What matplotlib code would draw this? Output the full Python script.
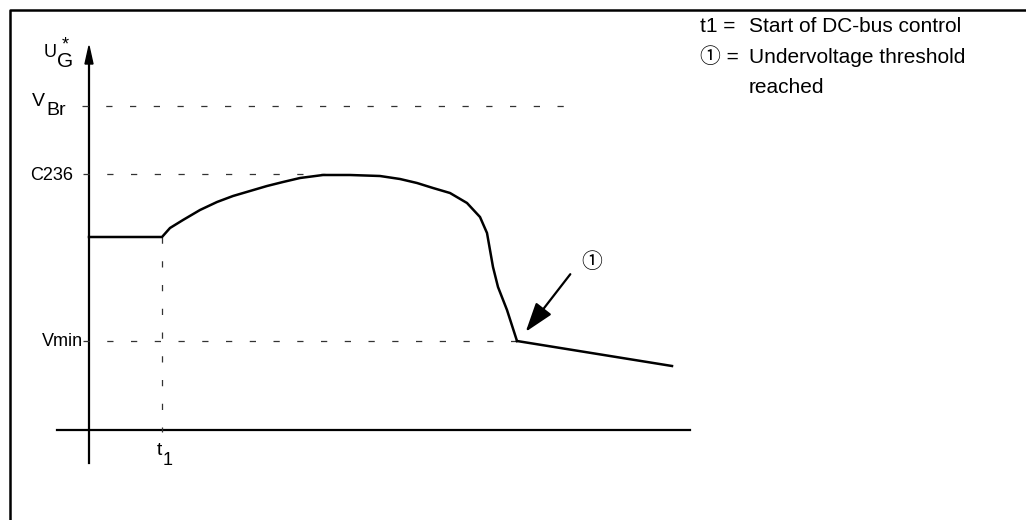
import matplotlib.pyplot as plt

plt.rcParams['font.family'] = ['Liberation Sans', 'Noto Sans CJK JP', 'DejaVu Sans']

# levels (schematic units, origin at the axis crossing)
t1 = 73
v_br = 324
c236 = 256
v_min = 89
u_start = 193

# DC-bus voltage curve
t_curve = [0, 73, 81, 94, 111, 128, 144, 161, 178, 194, 211, 234, 261, 291, 311, 328,
           344, 361, 378, 391, 398, 401, 404, 409, 418, 428]
u_curve = [193, 193, 202, 210, 220, 228, 234, 239, 244, 248, 252, 255, 255, 254, 251, 247,
           242, 237, 227, 213, 197, 180, 163, 143, 120, 89]
# after the undervoltage threshold
t_ramp = [428, 583]
u_ramp = [89, 64]

legend_keys = ["t1 =", "\u2460 ="]
legend_lines = ["Start of DC-bus control", "Undervoltage threshold", "reached"]

fig = plt.figure(figsize=(10.26, 5.2), dpi=100)
ax = fig.add_axes([0, 0, 1, 1])
ax.set_xlim(-89, 937)
ax.set_ylim(-90, 430)
ax.axis('off')

# frame (left and top edges)
ax.plot([-79, -79, 937], [-90, 420, 420], color='black', lw=1.8, solid_capstyle='butt')

# axes
ax.plot([0, 0], [-33, 368], color='black', lw=1.6)
ax.fill([-4, 4, 0], [366, 366, 384], color='black')
ax.plot([-32, 601], [0, 0], color='black', lw=1.6)

# dashed reference lines
dash = dict(color='#333333', lw=0.9, dashes=(5, 14))
ax.plot([-7, 486], [v_br, v_br], **dash)
ax.plot([-6, 236], [c236, c236], **dash)
ax.plot([-6, 428], [v_min, v_min], **dash)
ax.plot([t1, t1], [u_start, -2], **dash)

# curve
ax.plot(t_curve, u_curve, color='black', lw=1.8, solid_joinstyle='round')
ax.plot(t_ramp, u_ramp, color='black', lw=1.8)

# arrow to threshold point
ax.annotate('', xy=(435, 96), xytext=(483, 158),
            arrowprops=dict(arrowstyle='-|>,head_length=0.9,head_width=0.3',
                            color='black', lw=1.6, mutation_scale=20))
ax.text(503, 168, "\u2460", fontsize=15, ha='center', va='center')

# axis labels
ax.text(-45, 373, "U", fontsize=13, ha='left', va='baseline')
ax.text(-32, 363, "G", fontsize=15, ha='left', va='baseline')
ax.text(-24, 394, "*", fontsize=13, ha='center', va='top')
ax.text(-57, 324, "V", fontsize=14, ha='left', va='baseline')
ax.text(-43, 315, "Br", fontsize=14, ha='left', va='baseline')
ax.text(-16, 255, "C236", fontsize=13, ha='right', va='center')
ax.text(-6, 88, "Vmin", fontsize=13, ha='right', va='center')
ax.text(68, -25, "t", fontsize=14, ha='left', va='baseline')
ax.text(74, -35, "1", fontsize=13, ha='left', va='baseline')

# legend
ax.text(611, 398, legend_keys[0], fontsize=15, ha='left', va='baseline')
ax.text(660, 398, legend_lines[0], fontsize=15, ha='left', va='baseline')
ax.text(611, 367, legend_keys[1], fontsize=15, ha='left', va='baseline')
ax.text(660, 367, legend_lines[1], fontsize=15, ha='left', va='baseline')
ax.text(660, 337, legend_lines[2], fontsize=15, ha='left', va='baseline')

fig.savefig('out.png', dpi=100)
